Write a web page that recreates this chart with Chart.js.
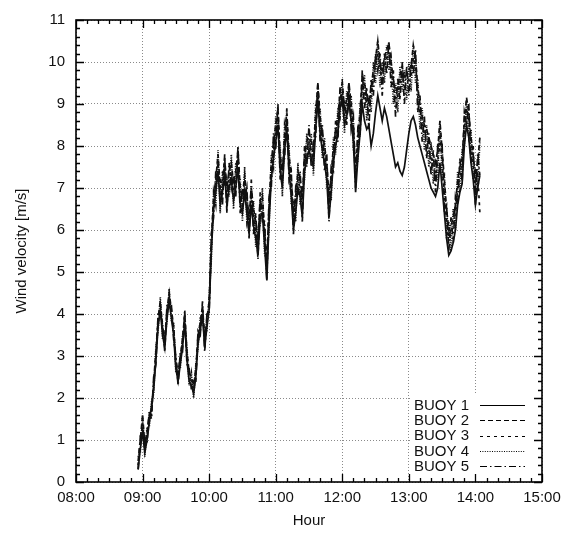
<!DOCTYPE html>
<html>
<head>
<meta charset="utf-8">
<script src="https://cdn.jsdelivr.net/npm/chart.js@4.4.1/dist/chart.umd.min.js"></script>
<style>
  html, body { margin: 0; padding: 0; background: #ffffff; }
  #wrap { width: 574px; height: 534px; }
</style>
</head>
<body>
<div id="wrap"><canvas id="c" width="574" height="534"></canvas></div>
<script>
// Sample grid: minutes after 08:00, one sample every 2 minutes from 08:56 to 14:04
const startMinute = 56;
const stepMinutes = 2;

const buoyNames = ["BUOY 1", "BUOY 2", "BUOY 3", "BUOY 4", "BUOY 5"];

const buoy1 = [
  0.3, 0.8, 1.2, 0.7, 1.0, 1.4, 1.8, 2.2, 2.9, 3.7,
  4.1, 3.5, 3.2, 3.9, 4.3, 3.9, 3.5, 2.7, 2.4, 2.8,
  3.2, 3.8, 2.9, 2.4, 2.3, 2.1, 2.5, 3.3, 3.6, 4.0,
  3.2, 3.7, 4.1, 5.5, 6.5, 6.9, 7.4, 6.6, 6.9, 7.3,
  6.6, 7.0, 7.2, 6.7, 7.0, 7.5, 6.6, 6.4, 6.9, 6.4,
  5.9, 6.6, 6.1, 5.8, 5.4, 6.3, 6.4, 5.6, 4.8, 6.2,
  7.2, 7.7, 8.1, 8.5, 7.4, 7.0, 7.9, 8.4, 7.4, 6.8,
  6.0, 6.4, 7.0, 6.8, 6.3, 7.4, 7.7, 7.9, 7.7, 7.5,
  8.4, 9.1, 8.3, 7.9, 7.6, 7.2, 6.3, 6.9, 7.6, 8.0,
  8.3, 8.9, 9.1, 8.5, 8.7, 9.1, 8.6, 8.1, 6.9, 7.7,
  8.3, 9.0, 8.6, 8.4, 8.5, 8.0, 8.3, 8.8, 9.2, 8.9,
  8.6, 8.9, 8.7, 8.4, 8.1, 7.8, 7.5, 7.6, 7.4, 7.3,
  7.5, 7.9, 8.3, 8.6, 8.7, 8.5, 8.2, 8.0, 7.8, 7.6,
  7.4, 7.2, 7.0, 6.9, 6.8, 7.0, 7.6, 7.0, 6.4, 5.8,
  5.4, 5.5, 5.7, 6.0, 6.6, 6.9, 7.1, 8.0, 8.5, 8.2,
  7.6, 7.2, 6.6, 7.0, 7.3
];

const buoy2 = [
  0.5, 1.0, 1.6, 0.9, 1.2, 1.6, 1.6, 2.4, 3.1, 3.9,
  4.3, 3.7, 3.4, 4.1, 4.5, 4.1, 3.7, 2.9, 2.6, 3.0,
  3.4, 4.0, 3.1, 2.6, 2.5, 2.3, 2.7, 3.5, 3.8, 4.2,
  3.4, 3.9, 4.3, 5.8, 6.8, 7.2, 7.8, 7.0, 7.2, 7.7,
  7.0, 7.4, 7.6, 7.1, 7.4, 7.9, 7.0, 6.8, 7.3, 6.8,
  6.3, 7.0, 6.5, 6.2, 5.8, 6.7, 6.8, 6.0, 5.2, 6.6,
  7.6, 8.1, 8.5, 8.9, 7.8, 7.4, 8.3, 8.8, 7.8, 7.2,
  6.5, 6.8, 7.4, 7.2, 6.8, 7.8, 8.1, 8.3, 8.1, 7.9,
  8.8, 9.5, 8.7, 8.3, 8.0, 7.6, 6.8, 7.3, 8.0, 8.4,
  8.7, 9.3, 9.5, 8.9, 9.1, 9.5, 9.0, 8.5, 7.4, 8.2,
  8.8, 9.7, 9.5, 9.2, 9.0, 9.4, 9.8, 10.1, 10.5, 10.0,
  9.8, 10.1, 10.3, 10.45, 10.0, 9.6, 9.3, 9.4, 9.7, 9.9,
  9.6, 9.7, 9.8, 9.9, 10.4, 10.1, 9.4, 9.0, 8.7, 8.5,
  8.4, 8.2, 8.0, 7.8, 7.6, 7.9, 8.6, 7.9, 7.2, 6.5,
  6.0, 6.1, 6.3, 6.6, 7.2, 7.5, 7.7, 8.6, 9.15, 8.8,
  8.2, 7.8, 7.2, 7.6, 8.2
];

const buoy3 = [
  0.4, 0.9, 1.4, 0.8, 1.1, 1.5, 1.7, 2.3, 3.0, 3.8,
  4.2, 3.6, 3.3, 4.0, 4.4, 4.0, 3.6, 2.8, 2.5, 2.9,
  3.3, 3.9, 3.0, 2.5, 2.4, 2.2, 2.6, 3.4, 3.7, 4.1,
  3.3, 3.8, 4.2, 5.6, 6.6, 7.0, 7.6, 6.8, 7.0, 7.5,
  6.8, 7.2, 7.4, 6.9, 7.2, 7.7, 6.8, 6.6, 7.1, 6.6,
  6.1, 6.8, 6.3, 6.0, 5.6, 6.5, 6.6, 5.8, 5.0, 6.4,
  7.4, 7.9, 8.3, 8.7, 7.6, 7.2, 8.1, 8.6, 7.6, 7.0,
  6.3, 6.6, 7.2, 7.0, 6.6, 7.6, 7.9, 8.1, 7.9, 7.7,
  8.6, 9.3, 8.5, 8.1, 7.8, 7.4, 6.6, 7.1, 7.8, 8.2,
  8.5, 9.1, 9.3, 8.7, 8.9, 9.3, 8.8, 8.3, 7.2, 8.0,
  8.6, 9.5, 9.3, 9.0, 8.8, 9.2, 9.6, 9.9, 10.2, 9.8,
  9.6, 9.9, 10.1, 10.2, 9.8, 9.4, 9.1, 9.2, 9.5, 9.7,
  9.4, 9.5, 9.6, 9.7, 10.1, 9.9, 9.2, 8.8, 8.5, 8.3,
  8.1, 7.9, 7.7, 7.5, 7.3, 7.6, 8.3, 7.6, 6.9, 6.2,
  5.8, 5.9, 6.1, 6.4, 7.0, 7.3, 7.5, 8.4, 8.9, 8.6,
  8.0, 7.6, 7.0, 7.4, 6.4
];

const buoy4 = [
  0.6, 0.7, 1.6, 0.6, 1.3, 1.3, 1.9, 2.1, 3.2, 3.6,
  4.4, 3.4, 3.5, 3.8, 4.6, 3.8, 3.8, 2.6, 2.7, 2.7,
  3.5, 3.7, 3.2, 2.3, 2.6, 2.0, 2.8, 3.2, 3.9, 3.9,
  3.5, 3.6, 4.4, 5.3, 6.9, 6.6, 7.9, 6.4, 7.4, 7.1,
  7.2, 6.8, 7.8, 6.5, 7.6, 7.3, 7.2, 6.2, 7.5, 6.2,
  6.5, 6.4, 6.7, 5.6, 6.0, 6.1, 7.0, 5.4, 5.3, 6.0,
  7.8, 7.5, 8.7, 8.3, 8.0, 6.8, 8.5, 8.2, 8.0, 6.6,
  6.7, 6.2, 7.6, 6.6, 7.0, 7.2, 8.3, 7.7, 8.3, 7.3,
  9.0, 8.9, 8.9, 7.7, 8.2, 7.0, 7.0, 6.7, 8.2, 7.8,
  8.9, 8.7, 9.6, 8.3, 9.3, 8.9, 9.2, 7.9, 7.6, 7.6,
  9.0, 9.1, 9.7, 8.6, 9.2, 8.8, 10.0, 9.5, 10.5, 9.4,
  10.0, 9.5, 10.4, 9.8, 10.1, 9.0, 9.5, 8.8, 9.9, 9.3,
  9.8, 9.1, 10.0, 9.3, 10.4, 9.5, 9.6, 8.4, 8.9, 7.9,
  8.5, 7.5, 8.1, 7.1, 7.7, 7.2, 8.6, 7.2, 7.3, 5.8,
  6.2, 5.5, 6.5, 6.0, 7.4, 6.9, 7.9, 8.0, 9.1, 8.2,
  8.4, 7.2, 7.4, 7.0, 8.1
];

const buoy5 = [
  0.3, 1.1, 1.2, 1.0, 0.9, 1.7, 1.5, 2.5, 2.8, 4.0,
  4.0, 3.8, 3.1, 4.2, 4.2, 4.2, 3.4, 3.0, 2.3, 3.1,
  3.1, 4.1, 2.8, 2.7, 2.2, 2.4, 2.4, 3.6, 3.5, 4.3,
  3.1, 4.0, 4.0, 5.9, 6.3, 7.4, 7.2, 7.2, 6.6, 7.8,
  6.4, 7.6, 7.0, 7.3, 6.8, 8.0, 6.4, 7.0, 6.7, 7.0,
  5.8, 7.2, 5.9, 6.4, 5.3, 6.9, 6.2, 6.2, 4.8, 6.8,
  7.0, 8.3, 7.9, 9.0, 7.2, 7.6, 7.7, 8.9, 7.2, 7.4,
  5.9, 7.0, 6.8, 7.4, 6.2, 8.0, 7.5, 8.5, 7.5, 8.1,
  8.2, 9.5, 8.1, 8.5, 7.4, 7.8, 6.2, 7.5, 7.4, 8.6,
  8.1, 9.4, 8.9, 9.1, 8.5, 9.5, 8.4, 8.7, 7.0, 8.4,
  8.2, 9.8, 8.9, 9.4, 8.4, 9.6, 9.2, 10.2, 9.8, 10.2,
  9.2, 10.2, 9.7, 10.5, 9.4, 9.8, 8.7, 9.6, 9.1, 10.0,
  9.0, 9.9, 9.2, 10.0, 9.7, 10.3, 8.8, 9.2, 8.1, 8.7,
  7.7, 8.3, 7.3, 7.9, 6.9, 8.0, 7.9, 8.0, 6.5, 6.6,
  5.5, 6.3, 5.7, 6.8, 6.6, 7.7, 7.1, 8.8, 8.5, 9.0,
  7.6, 8.0, 6.6, 7.8, 7.3
];

const xTickMinutes = [0, 60, 120, 180, 240, 300, 360, 420];
const xTickLabels = ["08:00", "09:00", "10:00", "11:00", "12:00", "13:00", "14:00", "15:00"];
const yTicks = [0, 1, 2, 3, 4, 5, 6, 7, 8, 9, 10, 11];

const series = [buoy1, buoy2, buoy3, buoy4, buoy5];
const dashes = [[], [5, 3], [3, 4], [1, 1.4], [7, 3, 1.5, 3]];

const toPoints = vals => vals.map((v, i) => ({ x: startMinute + i * stepMinutes, y: v }));

const FONT = "'Liberation Sans', Arial, Helvetica, sans-serif";

const framePlugin = {
  id: 'frame',
  afterDraw(chart) {
    const ctx = chart.ctx;
    const a = chart.chartArea;
    const xs = chart.scales.x, ys = chart.scales.y;
    ctx.save();
    // legend box (white, covering gridlines)
    const lx0 = 410, ly0 = 395;
    ctx.fillStyle = '#ffffff';
    ctx.fillRect(lx0, ly0, a.right - lx0, a.bottom - ly0);
    // inside ticks
    ctx.strokeStyle = '#000';
    ctx.lineWidth = 1.3;
    ctx.beginPath();
    for (let m = 0; m <= 420; m += 10) {
      const px = Math.round(xs.getPixelForValue(m)) + 0.5;
      const len = (m % 60 === 0) ? 8 : 4;
      ctx.moveTo(px, a.bottom); ctx.lineTo(px, a.bottom - len);
      ctx.moveTo(px, a.top); ctx.lineTo(px, a.top + len);
    }
    for (let k = 0; k <= 55; k++) {
      const v = k * 0.2;
      const py = Math.round(ys.getPixelForValue(v)) + 0.5;
      const len = (k % 5 === 0) ? 8 : 4;
      ctx.moveTo(a.left, py); ctx.lineTo(a.left + len, py);
      ctx.moveTo(a.right, py); ctx.lineTo(a.right - len, py);
    }
    ctx.stroke();
    // frame
    ctx.lineWidth = 1.6;
    ctx.strokeRect(a.left, a.top, a.right - a.left, a.bottom - a.top);
    // legend entries
    ctx.font = '15px ' + FONT;
    ctx.fillStyle = '#111';
    ctx.textAlign = 'right';
    ctx.textBaseline = 'middle';
    const rowY0 = 405, rowStep = 15.3;
    buoyNames.forEach((name, i) => {
      const y = rowY0 + i * rowStep;
      ctx.fillText(name, 469, y + 0.5);
      ctx.beginPath();
      ctx.setLineDash(dashes[i]);
      ctx.lineWidth = 1.2;
      ctx.moveTo(480, Math.round(y) + 0.5);
      ctx.lineTo(525, Math.round(y) + 0.5);
      ctx.stroke();
      ctx.setLineDash([]);
    });
    ctx.restore();
  }
};

new Chart(document.getElementById('c'), {
  type: 'line',
  data: {
    datasets: series.map((vals, i) => ({
      label: buoyNames[i],
      data: toPoints(vals),
      borderColor: '#111111',
      borderWidth: 1.7,
      borderDash: dashes[i],
      pointRadius: 0,
      tension: 0,
      fill: false
    }))
  },
  options: {
    responsive: false,
    animation: false,
    devicePixelRatio: 1,
    layout: { padding: { left: 0, right: 32, top: 15, bottom: 0 } },
    plugins: { legend: { display: false }, tooltip: { enabled: false } },
    scales: {
      x: {
        type: 'linear',
        min: 0, max: 420,
        afterFit(s) { s.height = 52; },
        afterBuildTicks(s) { s.ticks = xTickMinutes.map(v => ({ value: v })); },
        ticks: {
          autoSkip: false,
          maxRotation: 0,
          padding: 7,
          color: '#111',
          font: { family: FONT, size: 15 },
          callback: (v) => xTickLabels[xTickMinutes.indexOf(v)]
        },
        grid: { color: '#8a8a8a', lineWidth: 1, drawTicks: false },
        border: { display: false, dash: [1, 2] },
        title: {
          display: true, text: 'Hour', color: '#111',
          font: { family: FONT, size: 15 },
          padding: { top: 0, bottom: 4 }
        }
      },
      y: {
        min: 0, max: 11,
        afterFit(s) { s.width = 76; },
        afterBuildTicks(s) { s.ticks = yTicks.map(v => ({ value: v })); },
        ticks: {
          padding: 11,
          color: '#111',
          font: { family: FONT, size: 15 },
          callback: (v) => String(v)
        },
        grid: { color: '#8a8a8a', lineWidth: 1, drawTicks: false },
        border: { display: false, dash: [1, 2] },
        title: {
          display: true, text: 'Wind velocity [m/s]', color: '#111',
          font: { family: FONT, size: 15 },
          padding: { top: 13, bottom: 0 }
        }
      }
    }
  },
  plugins: [framePlugin]
});
</script>
</body>
</html>
